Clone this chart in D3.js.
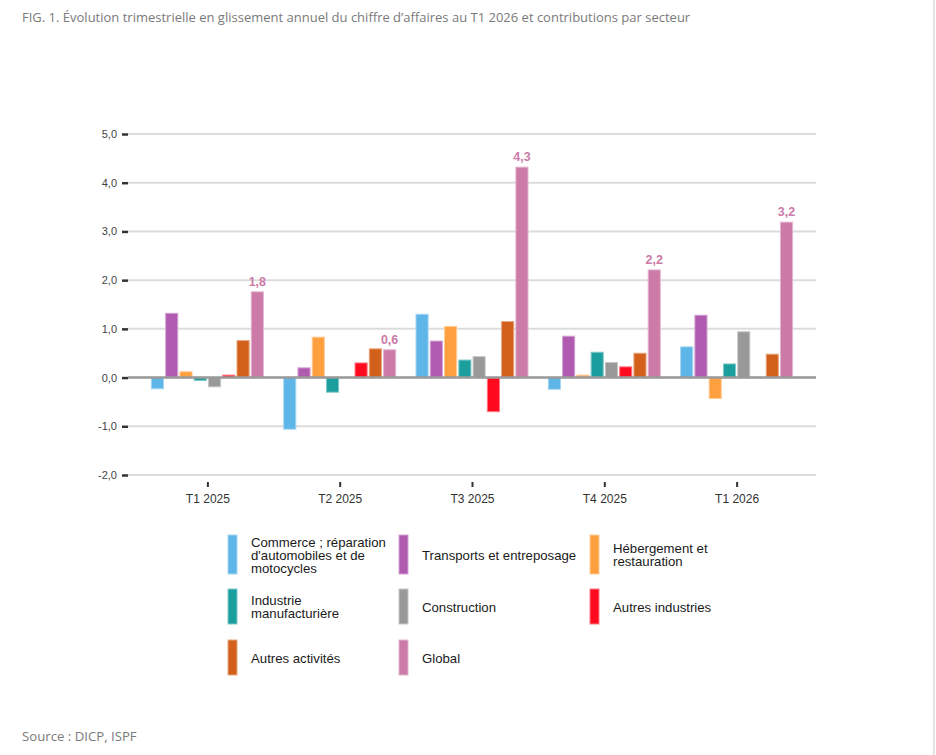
<!DOCTYPE html>
<html>
<head>
<meta charset="utf-8">
<script src="https://cdn.jsdelivr.net/npm/d3@7"></script>
<style>
  body { margin: 0; background: #fff; }
  #drawing { position: relative; width: 936px; height: 755px; }
</style>
</head>
<body>
<div id="drawing"></div>
<script>
// chart data
const quarters = ["T1 2025", "T2 2025", "T3 2025", "T4 2025", "T1 2026"];
const sectors = [
  "Commerce ; réparation d'automobiles et de motocycles",
  "Transports et entreposage",
  "Hébergement et restauration",
  "Industrie manufacturière",
  "Construction",
  "Autres industries",
  "Autres activités",
  "Global"
];
// one array per sector, one value per quarter
const commerce      = [-0.23, -1.06,  1.30, -0.24,  0.63];
const transports    = [ 1.32,  0.20,  0.75,  0.85,  1.28];
const hebergement   = [ 0.12,  0.83,  1.05,  0.05, -0.43];
const industrie     = [-0.06, -0.30,  0.36,  0.52,  0.28];
const construction  = [-0.19,  0.00,  0.43,  0.31,  0.94];
const autresInd     = [ 0.05,  0.30, -0.70,  0.22,  0.00];
const autresAct     = [ 0.76,  0.59,  1.15,  0.50,  0.48];
const global        = [ 1.76,  0.57,  4.32,  2.21,  3.19];
const globalLabels  = ["1,8", "0,6", "4,3", "2,2", "3,2"];
const yTicks = [-2, -1, 0, 1, 2, 3, 4, 5];

const seriesValues = [commerce, transports, hebergement, industrie, construction, autresInd, autresAct, global];
const colors = ["#5db5e8", "#b05bb0", "#ffa040", "#1a9e9e", "#999999", "#ff0a1e", "#d2601a", "#cc7aa8"];
// legend text split into lines, laid out in 3 columns
const legendLines = [
  ["Commerce ; réparation", "d'automobiles et de", "motocycles"],
  ["Transports et entreposage"],
  ["Hébergement et", "restauration"],
  ["Industrie", "manufacturière"],
  ["Construction"],
  ["Autres industries"],
  ["Autres activités"],
  ["Global"]
];

const width = 936;
const height = 755;
const plot = {left: 128, right: 816, top: 134, bottom: 475};

const svg = d3.select("#drawing").append("svg")
  .attr("width", width)
  .attr("height", height)
  .style("font-family", "'Liberation Sans', Arial, sans-serif");

// right border line of the page frame
svg.append("line")
  .attr("x1", 934).attr("x2", 934).attr("y1", 0).attr("y2", height)
  .attr("stroke", "#e2e2e2").attr("stroke-width", 2);

// title and source
svg.append("text")
  .attr("x", 22).attr("y", 22)
  .style("font-family", "'Open Sans', sans-serif")
  .style("font-size", "13px")
  .attr("fill", "#7a7a7a")
  .text("FIG. 1. Évolution trimestrielle en glissement annuel du chiffre d’affaires au T1 2026 et contributions par secteur");

svg.append("text")
  .attr("x", 22).attr("y", 741)
  .style("font-family", "'Open Sans', sans-serif")
  .style("font-size", "13.2px")
  .attr("fill", "#7a7a7a")
  .text("Source : DICP, ISPF");

// scales
const yScale = d3.scaleLinear().domain([-2, 5]).range([plot.bottom, plot.top]);
const xScale = d3.scalePoint().domain(quarters).range([plot.left, plot.right]).padding(0.6);
const xSub = d3.scaleBand().domain(d3.range(sectors.length)).range([-56, 56]).paddingInner(0.15);

// horizontal gridlines
const grid = svg.append("g");
grid.selectAll("line")
  .data(yTicks)
  .enter()
  .append("line")
    .attr("x1", plot.left).attr("x2", plot.right)
    .attr("y1", d => yScale(d)).attr("y2", d => yScale(d))
    .attr("stroke", "#dcdcdc")
    .attr("stroke-width", 2);

// y axis: short dark ticks + labels (hyphen minus, comma decimal)
const yAxis = svg.append("g")
  .attr("transform", `translate(${plot.left}, 0)`)
  .call(d3.axisLeft(yScale).tickValues(yTicks).tickSize(6).tickPadding(5)
    .tickFormat(d => d.toFixed(1).replace(".", ",")));
yAxis.select(".domain").remove();
yAxis.selectAll(".tick line").attr("stroke", "#333").attr("stroke-width", 2.5);
yAxis.selectAll(".tick text")
  .style("font-family", "'Liberation Sans', Arial, sans-serif")
  .style("font-size", "11px").attr("fill", "#444");

// x axis: small ticks below the plot + labels
const xAxis = svg.append("g")
  .attr("transform", `translate(0, ${plot.bottom + 7})`)
  .call(d3.axisBottom(xScale).tickSize(5).tickPadding(7));
xAxis.select(".domain").remove();
xAxis.selectAll(".tick line").attr("stroke", "#333").attr("stroke-width", 2);
xAxis.selectAll(".tick text")
  .style("font-family", "'Liberation Sans', Arial, sans-serif")
  .style("font-size", "12px").attr("fill", "#333");

// bars
const barData = [];
quarters.forEach((q, qi) => {
  seriesValues.forEach((vals, si) => {
    barData.push({quarter: q, series: si, value: vals[qi]});
  });
});

svg.append("g").selectAll(".bar")
  .data(barData.filter(d => d.value !== 0))
  .enter()
  .append("rect")
    .attr("class", "bar")
    .attr("x", d => xScale(d.quarter) + xSub(d.series))
    .attr("width", xSub.bandwidth())
    .attr("y", d => yScale(Math.max(0, d.value)))
    .attr("height", d => Math.abs(yScale(d.value) - yScale(0)))
    .attr("fill", d => colors[d.series])
    .attr("stroke", d => d3.interpolateRgb(colors[d.series], "#fff")(0.45))
    .attr("stroke-width", 1);

// zero line
svg.append("line")
  .attr("x1", plot.left).attr("x2", plot.right)
  .attr("y1", yScale(0)).attr("y2", yScale(0))
  .attr("stroke", "#9a9a9a")
  .attr("stroke-width", 2.5);

// labels above global bars
svg.append("g").selectAll("text")
  .data(quarters)
  .enter()
  .append("text")
    .attr("x", (d) => xScale(d) + xSub(7) + xSub.bandwidth() / 2)
    .attr("y", (d, i) => yScale(global[i]) - 6)
    .attr("text-anchor", "middle")
    .style("font-size", "12.5px")
    .style("font-weight", "bold")
    .attr("fill", "#cc7aa8")
    .text((d, i) => globalLabels[i]);

// legend
const colX = [228, 399, 590];
const rowY = [535, 589, 640];
const rowH = [39, 35, 35];
const legend = svg.append("g");
sectors.forEach((s, i) => {
  const col = i % 3, row = Math.floor(i / 3);
  const g = legend.append("g");
  g.append("rect")
    .attr("x", colX[col]).attr("y", rowY[row])
    .attr("width", 9).attr("height", rowH[row])
    .attr("fill", colors[i])
    .attr("stroke", d3.interpolateRgb(colors[i], "#fff")(0.45))
    .attr("stroke-width", 1);
  const lines = legendLines[i];
  const lh = 13;
  const cy = rowY[row] + rowH[row] / 2 + 5;
  g.append("text")
    .attr("x", colX[col] + 23)
    .attr("y", cy - (lines.length - 1) * lh / 2)
    .style("font-size", "13.2px")
    .attr("fill", "#1a1a1a")
    .selectAll("tspan")
    .data(lines)
    .enter()
    .append("tspan")
      .attr("x", colX[col] + 23)
      .attr("dy", (d, j) => j === 0 ? 0 : lh)
      .text(d => d);
});
</script>
</body>
</html>
